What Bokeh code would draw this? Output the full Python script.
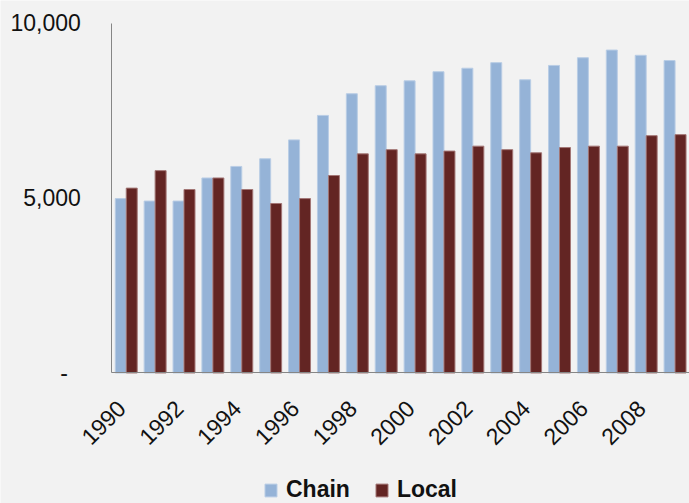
import math
from bokeh.plotting import figure
from bokeh.models import ColumnDataSource, FixedTicker, Legend, LegendItem, Range1d
from bokeh.transform import dodge
from bokeh.embed import file_html
from bokeh.resources import INLINE

years = list(range(1990, 2010))
chain = [4990, 4920, 4920, 5580, 5910, 6130, 6670, 7370, 7990, 8220,
         8360, 8620, 8720, 8880, 8390, 8800, 9020, 9240, 9090, 8940]
local = [5290, 5790, 5250, 5580, 5250, 4850, 4990, 5650, 6270, 6390,
         6270, 6350, 6490, 6390, 6300, 6450, 6490, 6490, 6790, 6820]
x_tick_years = [1990, 1992, 1994, 1996, 1998, 2000, 2002, 2004, 2006, 2008]
x_tick_labels = {y: str(y) + "\u00a0" for y in x_tick_years}
y_ticks = [0, 5000, 10000]
y_tick_labels = {0: "-\u00a0\u00a0", 5000: "5,000", 10000: "10,000"}

FONT = "Liberation Sans"
BG = "#F2F2F2"

src = ColumnDataSource(dict(year=years, chain=chain, local=local))

# the frame fills the whole page, so the axes (pinned at x=1989.5 and y=0),
# their labels and the legend all sit inside it without being clipped
p = figure(width=689, height=503, x_range=Range1d(1985.647, 2009.5), y_range=Range1d(-3734, 10658),
           output_backend="svg", toolbar_location=None,
           min_border_left=0, min_border_right=0, min_border_top=0, min_border_bottom=0)
p.background_fill_color = BG
p.border_fill_color = BG
p.outline_line_color = None
p.xgrid.visible = False
p.ygrid.visible = False

r1 = p.vbar(x=dodge("year", -0.19), top="chain", width=0.38, source=src,
            fill_color="#95B3D7", line_color="#B9CDE5", line_width=1)
r2 = p.vbar(x=dodge("year", 0.19), top="local", width=0.38, source=src,
            fill_color="#632523", line_color="#A37675", line_width=1)

ya = p.yaxis[0]
ya.fixed_location = 1989.5
ya.ticker = FixedTicker(ticks=y_ticks)
ya.bounds = (0, 10000)
ya.major_label_overrides = y_tick_labels
ya.major_tick_line_color = None
ya.minor_tick_line_color = None
ya.axis_line_color = "#868686"
ya.major_label_standoff = 25
ya.major_label_text_font = FONT
ya.major_label_text_font_size = "23px"
ya.major_label_text_color = "#111111"

xa = p.xaxis[0]
xa.fixed_location = 0
xa.bounds = (1989.5, 2009.5)
xa.ticker = FixedTicker(ticks=x_tick_years)
xa.major_label_overrides = x_tick_labels
xa.major_label_orientation = math.pi / 4
xa.major_tick_line_color = None
xa.minor_tick_line_color = None
xa.axis_line_color = "#868686"
xa.major_label_standoff = 21
xa.major_label_text_font = FONT
xa.major_label_text_font_size = "23px"
xa.major_label_text_color = "#111111"

legend = Legend(items=[LegendItem(label="Chain", renderers=[r1]),
                       LegendItem(label="Local", renderers=[r2])],
                location=(263, 0), orientation="horizontal",
                padding=0, margin=0, spacing=24, label_standoff=8,
                glyph_width=15, glyph_height=16,
                border_line_color=None, background_fill_alpha=0,
                label_text_font=FONT, label_text_font_size="23px",
                label_text_font_style="bold", label_text_color="#111111")
p.add_layout(legend, "center")

open("out.html", "w").write(file_html(p, INLINE))
